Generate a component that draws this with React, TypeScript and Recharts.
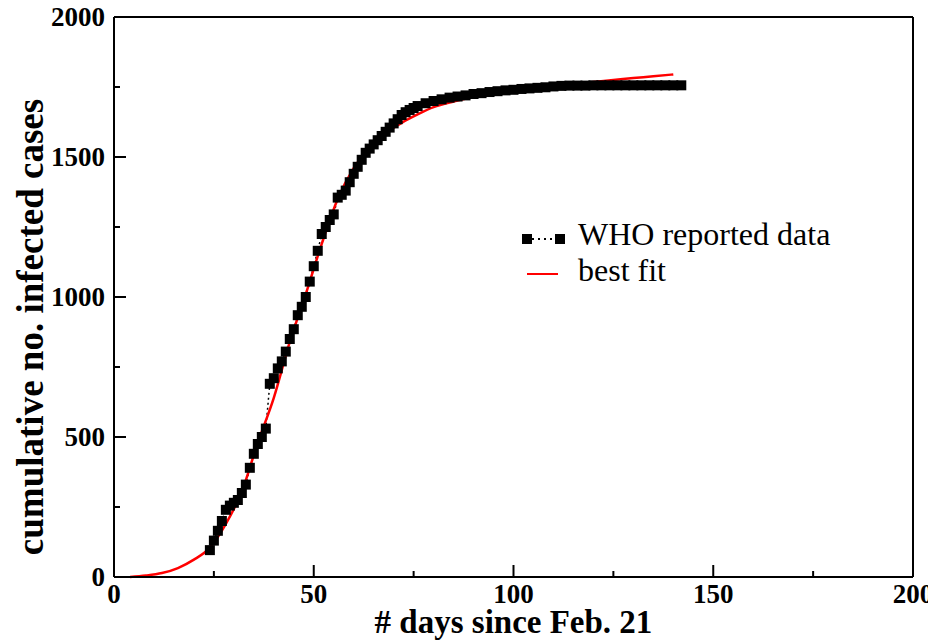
import React from 'react';
import { LineChart, Line, XAxis, YAxis, Legend, Label } from 'recharts';

// best fit curve
const fitDays = [4, 8, 12, 16, 20, 24, 28, 32, 36, 40, 44, 48, 52, 56, 60, 64, 68, 72, 76, 80, 85, 90, 95, 100, 105, 110, 115, 120, 125, 130, 135, 140];
const fitCases = [0, 5, 14, 32, 62, 105, 190, 305, 480, 640, 840, 1010, 1190, 1350, 1460, 1535, 1585, 1622, 1652, 1678, 1698, 1714, 1727, 1737, 1746, 1754, 1761, 1768, 1775, 1782, 1788, 1795];

// WHO reported cumulative cases
const whoDays = [24, 25, 26, 27, 28, 29, 30, 31, 32, 33, 34, 35, 36, 37, 38, 39, 40, 41, 42, 43, 44, 45, 46, 47, 48, 49, 50, 51, 52, 53, 54, 55, 56, 57, 58, 59, 60, 61, 62, 63, 64, 65, 66, 67, 68, 69, 70, 71, 72, 73, 74, 75, 76, 78, 80, 82, 84, 86, 88, 90, 92, 94, 96, 98, 100, 102, 104, 106, 108, 110, 112, 114, 116, 118, 120, 122, 124, 126, 128, 130, 132, 134, 136, 138, 140, 142];
const whoCases = [96, 130, 165, 200, 240, 255, 265, 275, 300, 330, 390, 440, 475, 500, 530, 690, 710, 745, 770, 805, 850, 885, 935, 965, 1000, 1055, 1110, 1165, 1225, 1250, 1275, 1295, 1355, 1365, 1380, 1410, 1440, 1465, 1490, 1515, 1530, 1545, 1560, 1575, 1590, 1605, 1620, 1635, 1650, 1660, 1668, 1675, 1682, 1692, 1700, 1706, 1712, 1716, 1720, 1725, 1728, 1732, 1735, 1738, 1740, 1743, 1745, 1747, 1749, 1752, 1754, 1755, 1755, 1755, 1756, 1756, 1756, 1756, 1756, 1756, 1756, 1756, 1756, 1756, 1756, 1756];

const xTicks = [0, 25, 50, 75, 100, 125, 150, 175, 200];
const yTicks = [0, 250, 500, 750, 1000, 1250, 1500, 1750, 2000];

const fitData = fitDays.map((d, i) => ({ day: d, cases: fitCases[i] }));
const whoData = whoDays.map((d, i) => ({ day: d, cases: whoCases[i] }));

const serif = "'Liberation Serif', 'Times New Roman', serif";

// draws inward tick marks (long for majors), optional bold label
function makeTick(side: 'bottom' | 'top' | 'left' | 'right', step: number, showLabel: boolean) {
  return (props: any) => {
    const { x, y, payload } = props;
    const major = payload.value % step === 0;
    const len = major ? 12 : 6;
    let line;
    if (side === 'bottom') line = <line x1={x} y1={y} x2={x} y2={y - len} />;
    else if (side === 'top') line = <line x1={x} y1={y} x2={x} y2={y + len} />;
    else if (side === 'left') line = <line x1={x} y1={y} x2={x + len} y2={y} />;
    else line = <line x1={x} y1={y} x2={x - len} y2={y} />;
    return (
      <g>
        <g stroke="#000" strokeWidth={2}>{line}</g>
        {showLabel && major && (
          <text
            x={side === 'left' ? x - 9 : x}
            y={side === 'left' ? y + 9 : y + 26}
            textAnchor={side === 'left' ? 'end' : 'middle'}
            fontFamily={serif}
            fontWeight="bold"
            fontSize={27}
            fill="#000"
          >
            {payload.value}
          </text>
        )}
      </g>
    );
  };
}

const renderSquare = (p: any) => (
  <rect key={`sq-${p.index}`} x={p.cx - 5} y={p.cy - 5} width={10} height={10} fill="#000" />
);

function LegendBox() {
  return (
    <svg width={380} height={80}>
      <line x1={17} y1={20} x2={40} y2={20} stroke="#000" strokeWidth={2} strokeDasharray="2 4" />
      <rect x={7} y={15} width={10} height={10} fill="#000" />
      <rect x={40} y={15} width={10} height={10} fill="#000" />
      <text x={63} y={26} fontFamily={serif} fontSize={32} fill="#000">WHO reported data</text>
      <line x1={12} y1={55} x2={43} y2={55} stroke="#ff0000" strokeWidth={2} />
      <text x={63} y={62} fontFamily={serif} fontSize={32} fill="#000">best fit</text>
    </svg>
  );
}

export default function App() {
  return (
    <div style={{ width: 920, height: 634, overflow: 'hidden', background: '#fff' }}>
      <LineChart width={935} height={634} margin={{ top: 8, right: 29, bottom: 0, left: 0 }}>
        <XAxis
          xAxisId="b"
          type="number"
          dataKey="day"
          domain={[0, 200]}
          ticks={xTicks}
          interval={0}
          height={65}
          tickLine={false}
          tickSize={0}
          tickMargin={0}
          axisLine={{ stroke: '#000', strokeWidth: 2 }}
          tick={makeTick('bottom', 50, true)}
        >
          <Label
            value="# days since Feb. 21"
            position="insideBottom"
            offset={9}
            style={{ fontFamily: serif, fontWeight: 'bold', fontSize: 33, fill: '#000' }}
          />
        </XAxis>
        <XAxis
          xAxisId="t"
          orientation="top"
          type="number"
          dataKey="day"
          domain={[0, 200]}
          ticks={xTicks}
          interval={0}
          height={1}
          tickLine={false}
          tickSize={0}
          tickMargin={0}
          axisLine={{ stroke: '#000', strokeWidth: 2 }}
          tick={makeTick('top', 50, false)}
        />
        <YAxis
          yAxisId="l"
          type="number"
          domain={[0, 2000]}
          ticks={yTicks}
          interval={0}
          width={106}
          tickLine={false}
          tickSize={0}
          tickMargin={0}
          axisLine={{ stroke: '#000', strokeWidth: 2 }}
          tick={makeTick('left', 500, true)}
        >
          <Label
            value="cumulative no. infected cases"
            position="center"
            angle={-90}
            dx={-31}
            dy={30}
            style={{ fontFamily: serif, fontWeight: 'bold', fontSize: 37, fill: '#000', textAnchor: 'middle' }}
          />
        </YAxis>
        <YAxis
          yAxisId="r"
          orientation="right"
          type="number"
          domain={[0, 2000]}
          ticks={yTicks}
          interval={0}
          width={1}
          tickLine={false}
          tickSize={0}
          tickMargin={0}
          axisLine={{ stroke: '#000', strokeWidth: 2 }}
          tick={makeTick('right', 500, false)}
        />
        <Legend
          layout="horizontal"
          verticalAlign="middle"
          align="center"
          wrapperStyle={{ left: 507, top: 211, width: 380, height: 80 }}
          content={() => <LegendBox />}
        />
        <Line
          xAxisId="b"
          yAxisId="l"
          data={whoData}
          dataKey="cases"
          stroke="#000"
          strokeWidth={1.5}
          strokeDasharray="2 3"
          dot={renderSquare}
          activeDot={false}
          isAnimationActive={false}
        />
        <Line
          xAxisId="b"
          yAxisId="l"
          data={fitData}
          dataKey="cases"
          type="monotone"
          stroke="#ff0000"
          strokeWidth={2.5}
          dot={false}
          activeDot={false}
          isAnimationActive={false}
        />
      </LineChart>
    </div>
  );
}
